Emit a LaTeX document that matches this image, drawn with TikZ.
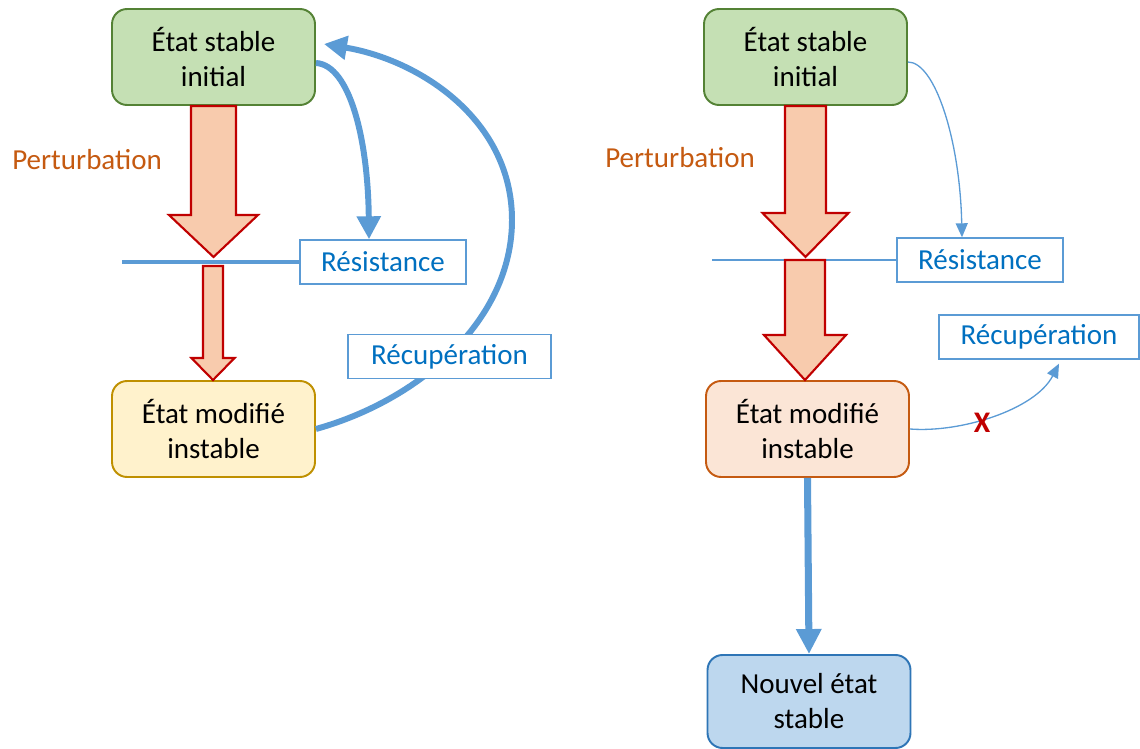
\documentclass[tikz,border=0pt]{standalone}
\usepackage{fontspec}
\setmainfont{Carlito}
\usetikzlibrary{calc}
\usetikzlibrary{arrows.meta}

\definecolor{greenfill}{HTML}{C5E0B4}
\definecolor{greendraw}{HTML}{548235}
\definecolor{yellowfill}{HTML}{FFF2CC}
\definecolor{yellowdraw}{HTML}{BF9000}
\definecolor{orangefill}{HTML}{FBE5D6}
\definecolor{orangedraw}{HTML}{C55A11}
\definecolor{bluefill}{HTML}{BDD7EE}
\definecolor{bluedraw}{HTML}{2E75B6}
\definecolor{peach}{HTML}{F8CBAD}
\definecolor{darkred}{HTML}{C00000}
\definecolor{linkblue}{HTML}{5B9BD5}
\definecolor{textblue}{HTML}{0070C0}

% block arrow: start, tip, half shaft, half head, head length
\newcommand{\blockarrow}[5]{%
  \draw[fill=peach, draw=darkred, line width=1.2pt, line join=miter]
    let \p1=(#1), \p2=(#2) in
    (\x1-#3,\y1) -- (\x1+#3,\y1) -- (\x1+#3,\y2+#5) -- (\x1+#4,\y2+#5)
    -- (\x1,\y2) -- (\x1-#4,\y2+#5) -- (\x1-#3,\y2+#5) -- cycle;
}

\begin{document}
\begin{tikzpicture}[x=0.02cm, y=-0.02cm,
  every node/.style={font=\fontsize{16.5}{19.9}\selectfont},
  state/.style={draw, rounded corners=0.3cm, line width=1.1pt, minimum width=4.06cm,
    minimum height=1.92cm, align=center, inner sep=0pt},
  tagbox/.style={draw=linkblue, line width=0.8pt, fill=white, text=textblue,
    minimum height=0.88cm, inner sep=0pt},
  pert/.style={text=orangedraw},
  thicklink/.style={draw=linkblue, line width=3.4pt, -{Triangle[length=0.46cm, width=0.46cm]}},
  thinlink/.style={draw=linkblue, line width=0.75pt, -{Triangle[length=0.28cm, width=0.24cm]}}]

\useasboundingbox (0,0) rectangle (1140,749);

%================ LEFT DIAGRAM ==================
\node[state, fill=greenfill, draw=greendraw] (initL) at (213.5,57) {État stable\\initial};
\node[state, fill=yellowfill, draw=yellowdraw] (modL) at (213.5,429) {État modifié\\instable};
\node[pert] (pertL) at (87,160) {Perturbation};

\coordinate (tipL) at (213,257);
\coordinate (cutL) at (213,266);

\blockarrow{initL.south}{tipL}{0.45cm}{0.89cm}{0.84cm}
\blockarrow{cutL}{modL.north}{0.2cm}{0.43cm}{0.44cm}

\node[tagbox, minimum width=3.32cm] (resL) at (383,262) {Résistance};
\coordinate (lineL) at (resL.west -| 122,0);
\draw[linkblue, line width=2.8pt] (lineL) -- (resL.west);

% recovery loop
\coordinate (loopL) at (512,220);
\draw[thicklink] (modL.east) .. controls (420,400) and (512,320) .. (loopL)
  .. controls (512,120) and (420,60) .. ([xshift=0.16cm,yshift=0.26cm]initL.east);
\draw[thicklink] ([yshift=-0.12cm]initL.east) .. controls (350,65) and (368,140)
  .. ([xshift=-0.28cm]resL.north);

\node[tagbox, minimum width=4.06cm] (recL) at (449.5,356.5) {Récupération};

%================ RIGHT DIAGRAM ==================
\node[state, fill=greenfill, draw=greendraw] (initR) at (805.5,57) {État stable\\initial};
\node[state, fill=orangefill, draw=orangedraw] (modR) at (807.5,429) {État modifié\\instable};
\node[state, fill=bluefill, draw=bluedraw, minimum height=1.86cm] (newR) at (809,701.5) {Nouvel état\\stable};
\node[pert] (pertR) at (680,158) {Perturbation};

\node[tagbox, minimum width=3.32cm] (resR) at (980,260) {Résistance};
\node[tagbox, minimum width=4.0cm] (recR) at (1039,337) {Récupération};

\coordinate (tipR) at (805,257);
\coordinate (cutR) at (805,260);
\coordinate (lineR) at (resR.west -| 712,0);

\blockarrow{initR.south}{tipR}{0.41cm}{0.86cm}{0.88cm}
\draw[linkblue, line width=0.9pt] (lineR) -- (resR.west);
\blockarrow{cutR}{modR.north}{0.4cm}{0.82cm}{0.9cm}

\draw[thinlink] ([yshift=-0.1cm]initR.east) .. controls (935,62) and (960,140)
  .. ([xshift=-0.36cm]resR.north);
\draw[thinlink] (modR.east) .. controls (960,433) and (1035,410)
  .. ([xshift=0.4cm,yshift=-0.08cm]recR.south);
\node[text=darkred, font=\fontsize{17}{20}\selectfont\bfseries] (cross) at (982,423) {X};

\draw[draw=linkblue, line width=4pt, -{Triangle[length=0.5cm, width=0.48cm]}] (modR.south) -- (newR.north);

\end{tikzpicture}
\end{document}
